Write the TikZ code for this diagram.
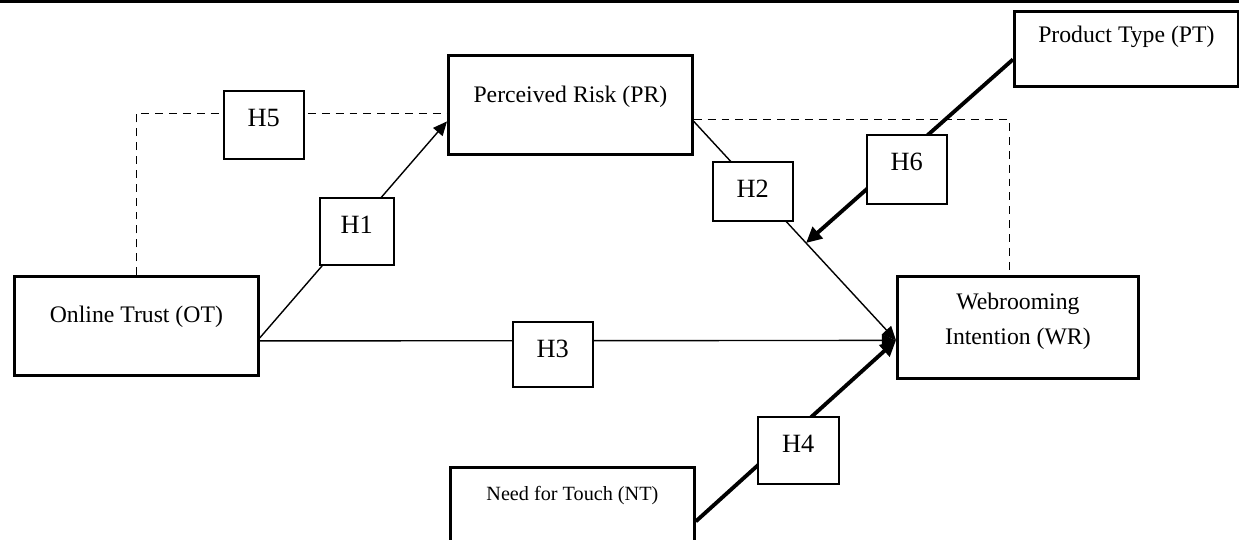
\documentclass[tikz,border=0pt]{standalone}
\usepackage{fontspec}
\setmainfont{Liberation Serif}
\usetikzlibrary{arrows.meta}

\begin{document}
\begin{tikzpicture}[x=0.02cm, y=-0.02cm,
    construct/.style={draw, line width=1.6pt, inner sep=0pt, anchor=north west,
        font=\fontsize{13.5}{19.8}\selectfont},
    hyp/.style={draw, fill=white, line width=0.9pt, inner sep=0pt, anchor=north west,
        minimum width=1.6cm, text height=0.72cm, font=\fontsize{15}{18}\selectfont},
    link/.style={line width=0.8pt, -{Triangle[length=8pt, width=7pt]}},
    strong/.style={line width=2.2pt, -{Triangle[length=9pt, width=8.5pt]}},
    ctrl/.style={line width=0.8pt, dash pattern=on 4.5pt off 3.4pt}]
    \useasboundingbox (0,0) rectangle (1239,539);
    \draw[line width=1.7pt] (0,1) -- (1239,1);

    \node[construct, minimum width=4.88cm, text height=0.94cm, text depth=1.04cm] (pr) at (447,54) {Perceived Risk (PR)};
    \node[construct, minimum width=4.88cm, text height=0.92cm, text depth=1.06cm] (ot) at (13,275) {Online Trust (OT)};
    \node[construct, minimum width=4.48cm, text height=0.62cm, text depth=0.88cm] (pt) at (1013,10) {Product Type (PT)};
    \node[construct, minimum width=4.82cm, text height=1.36cm, text depth=0.68cm, align=center] (wr) at (896,275) {Webrooming\\Intention (WR)};
    \node[construct, minimum width=4.88cm, text height=0.66cm, text depth=1.34cm,
        font=\fontsize{11.5}{14}\selectfont] (nt) at (449,466) {Need for Touch (NT)};
    \coordinate (mod) at (806,243);

    \draw[ctrl] (ot.north) |- ([yshift=-0.17cm]pr.west);
    \draw[ctrl] ([yshift=-0.29cm]pr.east) -| ([xshift=-0.17cm]wr.north);
    \draw[link] ([yshift=-0.24cm]ot.east) -- ([yshift=-0.33cm]pr.west);
    \draw[link] ([yshift=-0.33cm]pr.east) -- ([yshift=-0.26cm]wr.west);
    \draw[link] ([yshift=-0.3cm]ot.east) -- ([yshift=-0.26cm]wr.west);
    \draw[strong] ([yshift=-0.08cm]nt.east) -- ([yshift=-0.26cm]wr.west);
    \draw[strong] ([yshift=-0.21cm]pt.west) -- (mod);

    \node[hyp, text depth=0.64cm] (h5) at (223,90) {H5};
    \node[hyp, minimum width=1.48cm, text depth=0.62cm] (h1) at (319,197) {H1};
    \node[hyp, text depth=0.46cm] (h2) at (712,161) {H2};
    \node[hyp, text depth=0.66cm] (h6) at (866,134) {H6};
    \node[hyp, text depth=0.58cm] (h3) at (512,321) {H3};
    \node[hyp, minimum width=1.62cm, text depth=0.62cm] (h4) at (757,416) {H4};
\end{tikzpicture}
\end{document}
